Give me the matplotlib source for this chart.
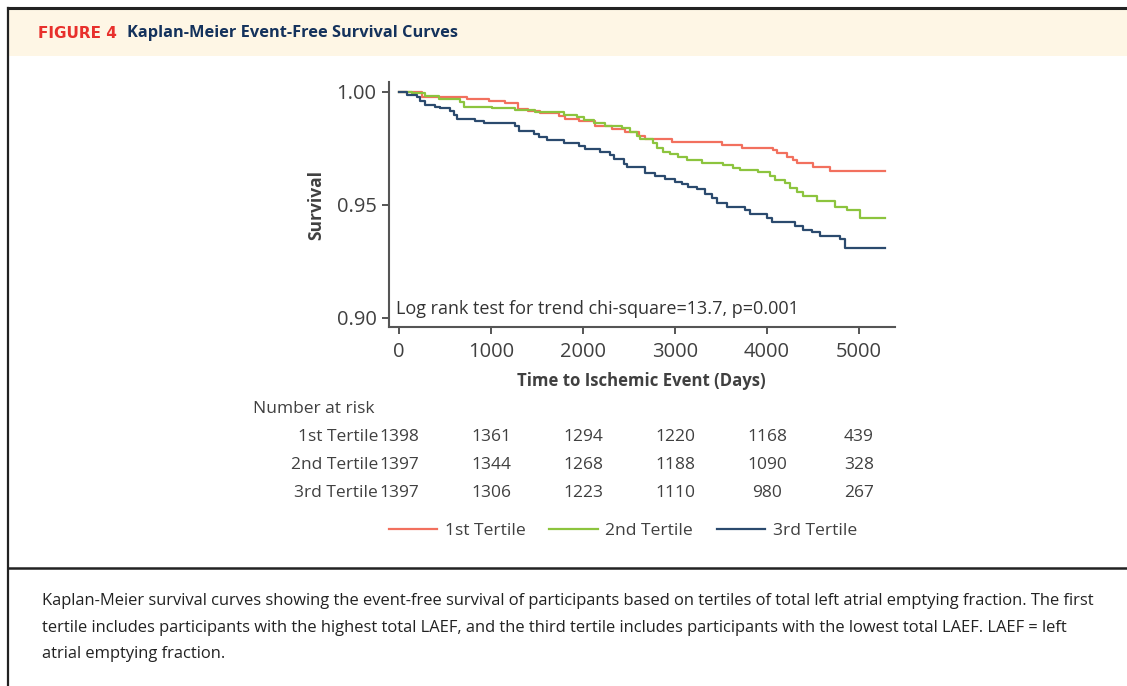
import matplotlib
matplotlib.use("Agg")
import matplotlib.pyplot as plt
from matplotlib.lines import Line2D
from matplotlib.patches import Rectangle
import matplotlib.transforms as mtransforms

# ---------------- data ----------------
t1 = [0, 65, 250, 739, 978, 1152, 1293, 1402, 1533, 1739, 1804, 1957, 2130, 2315, 2457,
      2609, 2674, 2967, 3511, 3728, 4065, 4109, 4217, 4283, 4326, 4500, 4685, 5283]
s1 = [1.0, 0.9997, 0.9975, 0.9966, 0.9958, 0.9949, 0.9924, 0.9916, 0.9907, 0.9893, 0.9880,
      0.9872, 0.9850, 0.9836, 0.9824, 0.9806, 0.9792, 0.9777, 0.9765, 0.9753, 0.9743, 0.9728,
      0.9713, 0.9699, 0.9684, 0.9669, 0.9650, 0.9650]

t2 = [0, 141, 283, 435, 663, 707, 1011, 1261, 1478, 1793, 1935, 2011, 2120, 2239, 2424,
      2511, 2587, 2620, 2761, 2804, 2870, 2946, 3033, 3130, 3293, 3522, 3630, 3707, 3902,
      4033, 4087, 4196, 4250, 4326, 4391, 4543, 4739, 4870, 5011, 5283]
s2 = [1.0, 0.9993, 0.9982, 0.9968, 0.9953, 0.9934, 0.9928, 0.9919, 0.9910, 0.9899, 0.9887,
      0.9875, 0.9862, 0.9850, 0.9838, 0.9821, 0.9806, 0.9791, 0.9772, 0.9750, 0.9735, 0.9724,
      0.9711, 0.9699, 0.9687, 0.9677, 0.9665, 0.9652, 0.9643, 0.9628, 0.9611, 0.9596, 0.9574,
      0.9555, 0.9537, 0.9518, 0.9490, 0.9475, 0.9442, 0.9442]

t3 = [0, 65, 87, 196, 228, 283, 391, 446, 554, 598, 630, 826, 924, 1261, 1304, 1467, 1522,
      1609, 1793, 1957, 2022, 2185, 2293, 2337, 2446, 2478, 2674, 2783, 2891, 3000, 3076,
      3141, 3239, 3326, 3402, 3457, 3565, 3761, 3815, 4000, 4054, 4304, 4391, 4489, 4576,
      4793, 4848, 5283]
s3 = [1.0, 0.9997, 0.9987, 0.9975, 0.9960, 0.9943, 0.9934, 0.9928, 0.9914, 0.9897, 0.9880,
      0.9872, 0.9862, 0.9850, 0.9828, 0.9813, 0.9799, 0.9787, 0.9772, 0.9762, 0.9747, 0.9733,
      0.9721, 0.9703, 0.9681, 0.9667, 0.9640, 0.9628, 0.9615, 0.9603, 0.9592, 0.9581, 0.9570,
      0.9549, 0.9530, 0.9508, 0.9490, 0.9478, 0.9461, 0.9442, 0.9422, 0.9408, 0.9390, 0.9378,
      0.9361, 0.9350, 0.9309, 0.9309]

series_labels = ["1st Tertile", "2nd Tertile", "3rd Tertile"]
risk_times = [0, 1000, 2000, 3000, 4000, 5000]
risk_1 = [1398, 1361, 1294, 1220, 1168, 439]
risk_2 = [1397, 1344, 1268, 1188, 1090, 328]
risk_3 = [1397, 1306, 1223, 1110, 980, 267]
y_ticks = [0.90, 0.95, 1.00]
x_ticks = [0, 1000, 2000, 3000, 4000, 5000]

caption_lines = [
    "Kaplan-Meier survival curves showing the event-free survival of participants based on tertiles of total left atrial emptying fraction. The first",
    "tertile includes participants with the highest total LAEF, and the third tertile includes participants with the lowest total LAEF. LAEF = left",
    "atrial emptying fraction.",
]

# ---------------- layout ----------------
W, H = 1127, 686
fig = plt.figure(figsize=(W / 100, H / 100), dpi=100)
fig.patch.set_facecolor("white")

def fx(x):
    return x / W

def fy(y):
    return 1 - y / H

FONT = ["Open Sans", "DejaVu Sans"]
TXT = "#404040"

# header band
fig.add_artist(Rectangle((fx(8), fy(56)), fx(W - 8), 48 / H, transform=fig.transFigure,
                         facecolor="#FEF6E5", edgecolor="none", zorder=0))
# borders
fig.add_artist(Line2D([fx(8), 1], [fy(8), fy(8)], transform=fig.transFigure, color="#222222", lw=2.2))
fig.add_artist(Line2D([fx(8), fx(8)], [0, fy(8)], transform=fig.transFigure, color="#222222", lw=1.6))
fig.add_artist(Line2D([fx(8), 1], [fy(568), fy(568)], transform=fig.transFigure, color="#222222", lw=1.8))

fig.text(fx(38), fy(33), "FIGURE 4", color="#E8302C", fontsize=11, fontweight="bold",
         family=["DejaVu Sans"], va="center", ha="left")
fig.text(fx(127), fy(33), "Kaplan-Meier Event-Free Survival Curves", color="#14325C",
         fontsize=11.8, fontweight="bold", family=FONT, va="center", ha="left")

# axes
L, R, T, B = 389, 895, 82, 327
ax = fig.add_axes([fx(L), fy(B), (R - L) / W, (B - T) / H])
colors = ["#F2705E", "#8CC43E", "#2B4A6E"]
for t, s, c, lab in zip([t1, t2, t3], [s1, s2, s3], colors, series_labels):
    ax.step(t, s, where="post", color=c, lw=1.6, label=lab)

ax.set_xlim(-109, 5391)
ax.set_ylim(0.896, 1.0043)
ax.set_xticks(x_ticks)
ax.set_yticks(y_ticks)
ax.set_yticklabels([f"{v:.2f}" for v in y_ticks])
for sp in ["top", "right"]:
    ax.spines[sp].set_visible(False)
for sp in ["left", "bottom"]:
    ax.spines[sp].set_color("#555555")
    ax.spines[sp].set_linewidth(1.5)
ax.tick_params(direction="out", length=5, width=1.4, color="#555555", labelcolor=TXT,
               labelsize=14.5, pad=4)
for lbl in ax.get_xticklabels() + ax.get_yticklabels():
    lbl.set_family(FONT)
ax.tick_params(axis="x", pad=6)

ax.set_ylabel("Survival", fontsize=12.5, fontweight="bold", color=TXT, family=FONT)
ax.yaxis.set_label_coords((316 - L) / (R - L), (B - 205) / (B - T))
ax.yaxis.label.set_va("center")
ax.set_xlabel("Time to Ischemic Event (Days)", fontsize=12.1, fontweight="bold", color=TXT, family=FONT)
ax.xaxis.set_label_coords((641 - L) / (R - L), (B - 381) / (B - T))
ax.xaxis.label.set_va("center")

ax.text((396 - L) / (R - L), (B - 309) / (B - T), "Log rank test for trend chi-square=13.7, p=0.001",
        transform=ax.transAxes, fontsize=13, color="#333333", family=FONT, va="center", ha="left")

# number at risk table
fig.text(fx(253), fy(409), "Number at risk", fontsize=12.5, color=TXT, family=FONT, va="center", ha="left")
blend = mtransforms.blended_transform_factory(ax.transData, fig.transFigure)
for row_y, lab, vals in zip([437, 465, 493], series_labels, [risk_1, risk_2, risk_3]):
    fig.text(fx(378), fy(row_y), lab, fontsize=12.5, color=TXT, family=FONT, va="center", ha="right")
    for tx, v in zip(risk_times, vals):
        ax.text(tx, fy(row_y), str(v), transform=blend, fontsize=12.5, color=TXT, family=FONT,
                va="center", ha="center", clip_on=False)

# legend
handles = [Line2D([], [], color=c, lw=1.6) for c in colors]
leg = fig.legend(handles, series_labels, ncol=3, loc="center", bbox_to_anchor=(fx(623), fy(531)),
                 frameon=False, handlelength=2.75, handletextpad=0.45, columnspacing=1.35,
                 prop={"family": FONT, "size": 12.6})
for txt in leg.get_texts():
    txt.set_color(TXT)

# caption
for i, line in enumerate(caption_lines):
    fig.text(fx(42), fy(601 + 26.5 * i), line, fontsize=11.9, color="#222222", family=FONT,
             va="center", ha="left")

fig.savefig("out.png", dpi=100, facecolor="white")
